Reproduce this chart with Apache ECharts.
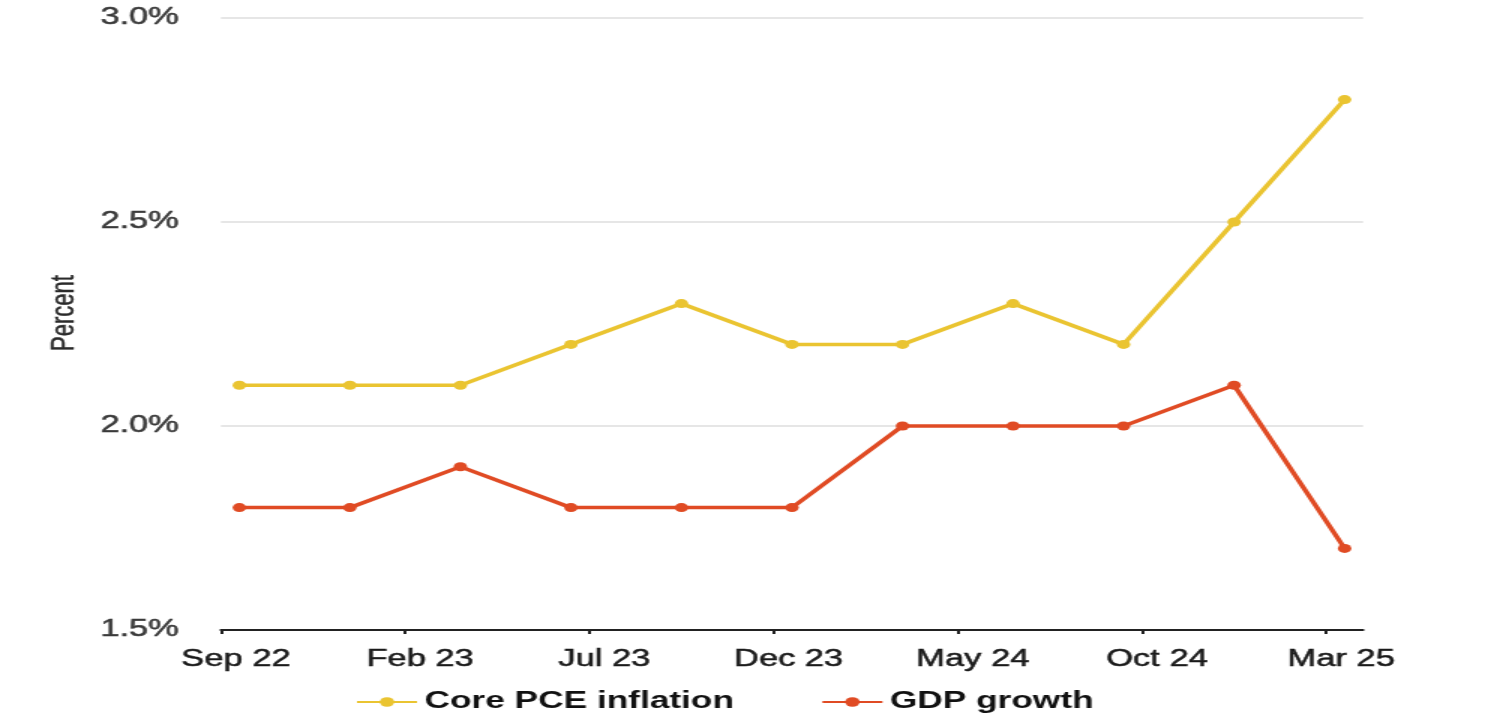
<!DOCTYPE html>
<html>
<head>
<meta charset="utf-8">
<script src="https://cdn.jsdelivr.net/npm/echarts@6/dist/echarts.min.js"></script>
<style>
  html, body { margin: 0; padding: 0; background: #fff; overflow: hidden; }
  #chart { width: 1000px; height: 721px; transform: scaleX(1.5); transform-origin: 0 0; }
</style>
</head>
<body>
<div id="chart"></div>
<script>
// Meeting dates (months since Sep 2022) and projections
const meetingLabels = ['Sep 22','Dec 22','Mar 23','Jun 23','Sep 23','Dec 23','Mar 24','Jun 24','Sep 24','Dec 24','Mar 25'];
const meetingMonths = [0.5, 3.5, 6.5, 9.5, 12.5, 15.5, 18.5, 21.5, 24.5, 27.5, 30.5];
const corePCE = [2.1, 2.1, 2.1, 2.2, 2.3, 2.2, 2.2, 2.3, 2.2, 2.5, 2.8];
const gdpGrowth = [1.8, 1.8, 1.9, 1.8, 1.8, 1.8, 2.0, 2.0, 2.0, 2.1, 1.7];
const xTickValues = [0, 5, 10, 15, 20, 25, 30];
const xTickLabels = ['Sep 22','Feb 23','Jul 23','Dec 23','May 24','Oct 24','Mar 25'];
const yTicks = [1.5, 2.0, 2.5, 3.0];

const FONT = '"Liberation Sans", Arial, Helvetica, sans-serif';
const chart = echarts.init(document.getElementById('chart'));

chart.setOption({
  animation: false,
  backgroundColor: '#fff',
  grid: { left: 147.3, right: 91.3, top: 18, bottom: 91 },
  xAxis: {
    type: 'value',
    min: 0, max: 31, interval: 5,
    splitLine: { show: false },
    axisLine: { show: true, lineStyle: { color: '#222', width: 2 } },
    axisTick: { show: true, length: 4, lineStyle: { color: '#222', width: 2 }, customValues: xTickValues },
    axisLabel: {
      customValues: xTickValues,
      margin: 18,
      padding: [0, 0, 0, 20],
      fontFamily: FONT, fontSize: 23, color: '#1a1a1a',
      textBorderColor: '#1a1a1a', textBorderWidth: 0.5,
      formatter: function (v) {
        const i = xTickValues.indexOf(v);
        return i >= 0 ? xTickLabels[i] : '';
      }
    }
  },
  yAxis: {
    type: 'value',
    min: yTicks[0], max: yTicks[yTicks.length - 1], interval: 0.5,
    axisLine: { show: false },
    axisTick: { show: false },
    splitLine: { show: true, lineStyle: { color: '#e6e6e6', width: 2 } },
    axisLabel: {
      margin: 28,
      fontFamily: FONT, fontSize: 23, color: '#3a3a3a',
      textBorderColor: '#3a3a3a', textBorderWidth: 0.5,
      formatter: function (v) { return v.toFixed(1) + '%'; }
    }
  },
  graphic: [{
    type: 'text',
    x: 42.7, y: 313,
    rotation: Math.PI / 2,
    style: {
      text: 'Percent',
      fontFamily: FONT, fontSize: 22, fill: '#2a2a2a',
      stroke: '#2a2a2a', lineWidth: 0.4,
      align: 'center', verticalAlign: 'middle'
    }
  }],
  legend: {
    left: 232, top: 685,
    itemWidth: 40, itemHeight: 12, itemGap: 58,
    textStyle: { fontFamily: FONT, fontSize: 23.5, fontWeight: 'bold', color: '#111' },
    data: ['Core PCE inflation', 'GDP growth']
  },
  series: [
    {
      name: 'Core PCE inflation',
      type: 'line',
      data: meetingMonths.map((m, i) => [m, corePCE[i]]),
      color: '#EAC431',
      symbol: 'circle', symbolSize: 9,
      lineStyle: { width: 3.5 }
    },
    {
      name: 'GDP growth',
      type: 'line',
      data: meetingMonths.map((m, i) => [m, gdpGrowth[i]]),
      color: '#E04B24',
      symbol: 'circle', symbolSize: 9,
      lineStyle: { width: 3.5 }
    }
  ]
});
</script>
</body>
</html>
